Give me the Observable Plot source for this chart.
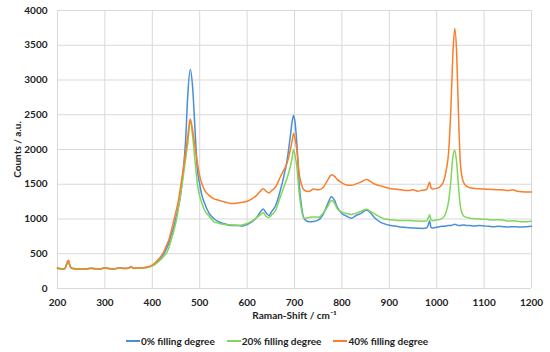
<!DOCTYPE html>
<html><head><meta charset="utf-8">
<script src="https://cdn.jsdelivr.net/npm/d3@7"></script>
<script src="https://cdn.jsdelivr.net/npm/@observablehq/plot@0.6"></script>
<style>
body{margin:0;background:#fff;}
#chart{width:550px;}
#chart svg text{font-weight:bold;}
.legend{display:flex;justify-content:center;gap:12px;font:bold 10px Lato, sans-serif;color:#222;margin-top:12px;line-height:14px;padding-left:4px;}
.legend span{display:inline-flex;align-items:center;}
.legend i{display:inline-block;width:14px;height:2px;margin-right:1px;}
</style>
</head><body>
<div id="chart"></div>
<script>
const seriesNames = ["0% filling degree", "20% filling degree", "40% filling degree"];
const seriesColors = ["#4A8FD6", "#80D65A", "#FB7E2B"];
const xTicks = [200,300,400,500,600,700,800,900,1000,1100,1200];
const yTicks = [0,500,1000,1500,2000,2500,3000,3500,4000];

const shift = [
 200,205,210,215,220,223,226,230,240,250,
 260,270,280,290,300,310,320,330,340,350,
 355,360,370,380,390,400,410,420,425,430,
 435,440,445,450,455,460,465,470,475,480,
 485,490,495,500,505,510,520,530,540,550,
 560,570,580,590,600,610,620,628,634,640,
 646,652,660,670,677,684,691,695,698,701,
 705,710,715,720,730,740,750,760,770,778,
 785,790,800,810,820,830,840,852,860,870,
 880,890,900,910,920,930,940,950,960,970,
 978,982,985,988,992,1000,1008,1015,1020,1025,
 1030,1034,1038,1042,1046,1050,1055,1060,1070,1080,
 1090,1100,1110,1120,1130,1140,1150,1160,1170,1180,
 1190,1200];

const fill0 = [
 295,285,282,285,360,400,330,290,282,278,
 280,290,285,280,298,285,282,298,288,292,
 312,290,292,298,305,330,380,455,510,575,
 660,770,880,1020,1170,1360,1680,2100,2800,3150,
 2900,2300,1720,1500,1330,1230,1080,1004,960,935,
 915,905,905,900,920,960,1020,1100,1145,1090,
 1050,1110,1190,1410,1600,1830,2180,2400,2490,2400,
 2080,1500,1170,1010,960,965,985,1060,1220,1320,
 1260,1170,1080,1040,1010,1050,1080,1130,1090,1010,
 960,930,910,900,890,880,875,870,868,865,
 870,910,975,880,870,880,893,895,900,905,
 905,915,925,915,905,905,915,910,905,900,
 905,900,895,890,895,890,885,890,888,885,
 890,895];

const fill20 = [
 292,283,280,284,355,395,328,288,280,276,
 279,288,283,279,295,283,281,296,286,290,
 308,288,290,296,302,326,368,430,470,510,
 590,700,820,960,1150,1370,1600,1850,2100,2420,
 2200,1850,1510,1330,1220,1130,1040,960,940,925,
 918,912,910,915,935,970,1020,1060,1090,1040,
 1020,1060,1124,1316,1450,1580,1750,1880,1995,1920,
 1750,1364,1124,1010,1020,1030,1025,1080,1180,1265,
 1220,1150,1100,1080,1065,1085,1110,1140,1110,1070,
 1030,1000,990,985,980,980,978,975,970,968,
 972,1010,1062,990,975,985,995,1030,1100,1250,
 1560,1890,1990,1820,1470,1180,1060,1030,1010,1005,
 1000,995,990,985,990,985,970,975,968,960,
 962,968];

const fill40 = [
 298,288,284,288,365,405,335,292,283,280,
 282,292,287,282,300,287,284,300,290,294,
 315,292,295,300,308,335,400,480,540,620,
 700,830,970,1110,1260,1480,1700,1950,2200,2440,
 2280,2050,1810,1620,1500,1420,1340,1290,1270,1250,
 1232,1222,1230,1240,1255,1290,1340,1400,1436,1400,
 1375,1410,1460,1604,1700,1800,1985,2120,2230,2160,
 1990,1650,1490,1420,1395,1430,1420,1450,1560,1635,
 1610,1570,1520,1490,1485,1505,1530,1570,1540,1500,
 1480,1460,1440,1430,1425,1415,1410,1420,1400,1415,
 1420,1480,1532,1450,1430,1440,1470,1550,1700,1950,
 2600,3350,3740,3400,2500,1800,1560,1490,1450,1440,
 1435,1430,1428,1425,1420,1418,1410,1420,1400,1392,
 1388,1390];

const seriesValues = [fill0, fill20, fill40];
const rows = seriesValues.flatMap((vals, k) =>
  shift.map((s, i) => ({shift: s, counts: vals[i], series: seriesNames[k]})));

const chart = Plot.plot({
  width: 550,
  height: 322,
  marginLeft: 57,
  marginRight: 19,
  marginTop: 10,
  marginBottom: 34,
  style: {fontFamily: "Lato, sans-serif", fontSize: "10px", color: "#222", background: "#fff"},
  x: {domain: [200, 1200]},
  y: {domain: [0, 4000]},
  color: {domain: seriesNames, range: seriesColors},
  marks: [
    Plot.gridX(xTicks, {stroke: "#d9d9d9", strokeOpacity: 1}),
    Plot.gridY(yTicks, {stroke: "#d9d9d9", strokeOpacity: 1}),
    Plot.axisX(xTicks, {tickSize: 0, tickPadding: 10, tickFormat: d => String(d),
      label: "Raman-Shift / cm⁻¹", labelAnchor: "center", labelArrow: "none", labelOffset: 30}),
    Plot.axisY(yTicks, {tickSize: 0, tickPadding: 10, tickFormat: d => String(d),
      label: "Counts / a.u.", labelAnchor: "center", labelArrow: "none", labelOffset: 44}),
    Plot.line(rows, {x: "shift", y: "counts", z: "series", stroke: "series",
      strokeWidth: 1.5, curve: "monotone-x"})
  ]
});
document.getElementById("chart").appendChild(chart);

const legend = document.createElement("div");
legend.className = "legend";
seriesNames.forEach((n, k) => {
  const s = document.createElement("span");
  const sw = document.createElement("i");
  sw.style.background = seriesColors[k];
  s.appendChild(sw);
  s.appendChild(document.createTextNode(n));
  legend.appendChild(s);
});
document.getElementById("chart").appendChild(legend);
</script>
</body></html>
